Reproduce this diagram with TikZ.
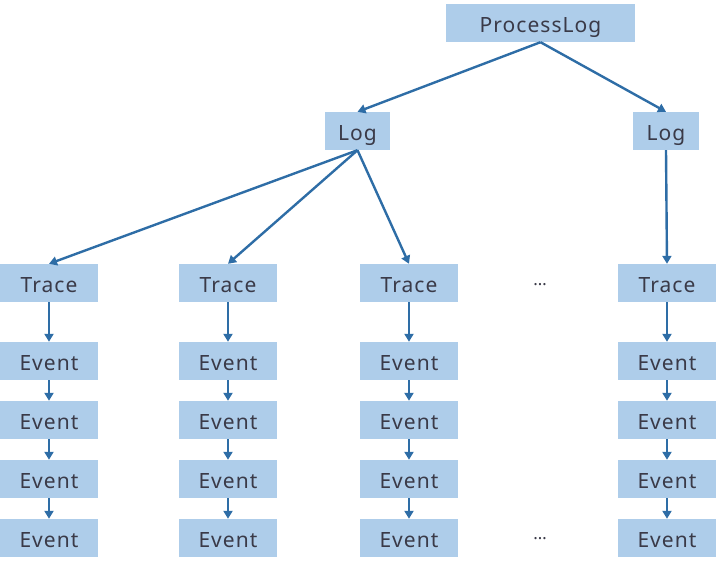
\documentclass[tikz,border=0pt]{standalone}
\usepackage{fontspec}
\setmainfont[LetterSpace=5]{Noto Sans}
\usetikzlibrary{arrows.meta}
\definecolor{boxfill}{HTML}{AECDEA}
\definecolor{arrowc}{HTML}{2E6DA6}
\definecolor{txt}{HTML}{3A3A48}
\begin{document}
\begin{tikzpicture}[x=1pt,y=-1pt,
  box/.style={fill=boxfill,draw=none,inner sep=0pt,minimum height=38pt,text height=18pt,text depth=0pt,text=txt,font=\fontsize{21}{25}\selectfont},
  dots/.style={text=txt,inner sep=0pt,font=\fontsize{17}{20}\selectfont},
  arr/.style={draw=arrowc,line width=2.4pt,-{Triangle[length=8pt,width=9pt]}}]
\useasboundingbox (0,0) rectangle (716,568);
\node[box,minimum width=189pt] (pl) at (540.5,23) {ProcessLog};
\node[box,minimum width=65pt] (l1) at (357.5,131) {Log};
\node[box,minimum width=66pt] (l2) at (666,131) {Log};
\foreach \n/\x in {1/49,2/228,3/409,4/667}{
  \node[box,minimum width=98pt] (t\n) at (\x,283) {Trace};
  \node[box,minimum width=98pt] (e\n a) at (\x,361) {Event};
  \node[box,minimum width=98pt] (e\n b) at (\x,420) {Event};
  \node[box,minimum width=98pt] (e\n c) at (\x,479) {Event};
  \node[box,minimum width=98pt] (e\n d) at (\x,538) {Event};
  \draw[arr] (t\n.south) -- (e\n a.north);
  \draw[arr] (e\n a.south) -- (e\n b.north);
  \draw[arr] (e\n b.south) -- (e\n c.north);
  \draw[arr] (e\n c.south) -- (e\n d.north);
}
\node[dots] (d1) at (540,285) {…};
\node[dots] (d2) at (540,539) {…};
\draw[arr] (pl.south) -- (l1.north);
\draw[arr] (pl.south) -- (l2.north);
\draw[arr] (l1.south) -- (t1.north);
\draw[arr] (l1.south) -- (t2.north);
\draw[arr] (l1.south) -- (t3.north);
\draw[arr] (l2.south) -- (t4.north);
\end{tikzpicture}
\end{document}
